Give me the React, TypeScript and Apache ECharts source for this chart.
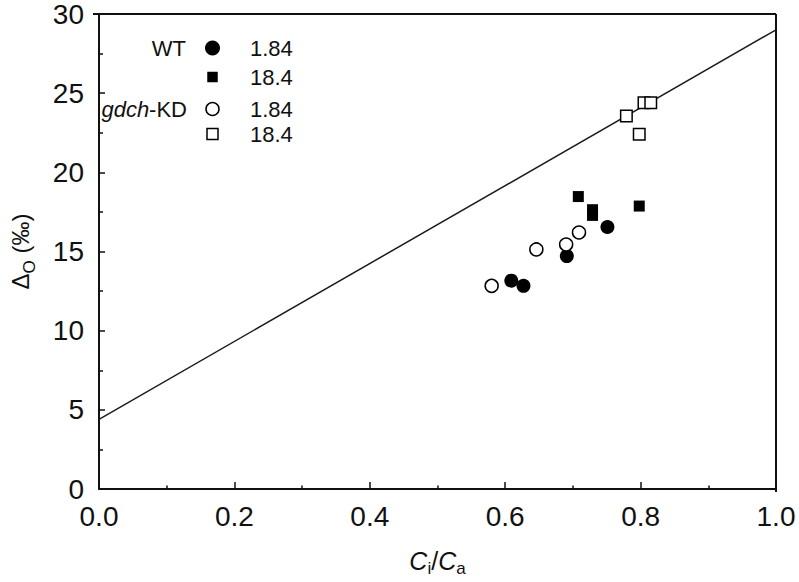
import React, { useEffect, useRef } from "react";
import * as echarts from "echarts";

const lineX = [0, 1];
const lineY = [4.4, 29.0];

const wt184: number[][] = [[0.751, 16.55], [0.691, 14.71], [0.609, 13.16], [0.627, 12.83]];
const wt184Sq: number[][] = [[0.708, 18.47], [0.798, 17.87], [0.729, 17.64], [0.729, 17.28]];
const kd184: number[][] = [[0.709, 16.2], [0.690, 15.44], [0.646, 15.13], [0.580, 12.83]];
const kd184Sq: number[][] = [[0.779, 23.56], [0.798, 22.41], [0.805, 24.4], [0.815, 24.4]];

const legendRows = [
  { group: "WT", marker: "circle", filled: true, label: "1.84" },
  { group: "", marker: "rect", filled: true, label: "18.4" },
  { group: "gdch-KD", marker: "circle", filled: false, label: "1.84" },
  { group: "", marker: "rect", filled: false, label: "18.4" },
];

const FONT = "Liberation Sans, Arial, sans-serif";
const INK = "#111";

export default function App() {
  const ref = useRef<HTMLDivElement>(null);
  useEffect(() => {
    if (!ref.current) return;
    const chart = echarts.init(ref.current, undefined, { renderer: "svg" });
    const rowY = [48, 77, 109, 134];
    const graphics: any[] = [];
    legendRows.forEach((r, i) => {
      const y = rowY[i];
      if (r.group === "WT") {
        graphics.push({ type: "text", x: 186, y, style: { text: "WT", fill: INK, font: `22px ${FONT}`, align: "right", verticalAlign: "middle" } });
      } else if (r.group) {
        graphics.push({
          type: "text", x: 187, y,
          style: {
            text: "{i|gdch}{n|-KD}", align: "right", verticalAlign: "middle",
            rich: { i: { fontStyle: "italic", fontSize: 22, fontFamily: FONT, fill: INK }, n: { fontSize: 22, fontFamily: FONT, fill: INK } },
          },
        });
      }
      if (r.marker === "circle") {
        const rad = r.filled ? 7.5 : 6.5;
        graphics.push({ type: "circle", shape: { cx: 212.5, cy: y, r: rad }, style: { fill: r.filled ? "#000" : "#fff", stroke: "#000", lineWidth: r.filled ? 0 : 1.5 } });
      } else {
        const s = r.filled ? 10.5 : 11;
        graphics.push({ type: "rect", shape: { x: 212.5 - s / 2, y: y - s / 2, width: s, height: s }, style: { fill: r.filled ? "#000" : "#fff", stroke: "#000", lineWidth: r.filled ? 0 : 1.5 } });
      }
      graphics.push({ type: "text", x: 250, y, style: { text: r.label, fill: INK, font: `22px ${FONT}`, verticalAlign: "middle" } });
    });

    const scatterBase = { type: "scatter", z: 3 };
    chart.setOption({
      animation: false,
      backgroundColor: "#fff",
      grid: { left: 93, right: 23, top: 14, bottom: 90, show: false, containLabel: false },
      xAxis: {
        type: "value", min: 0, max: 1, interval: 0.2,
        axisLine: { show: true, onZero: false, lineStyle: { color: INK, width: 2 } },
        axisTick: { show: true, inside: true, length: 7, lineStyle: { color: INK, width: 1.5 } },
        minorTick: { show: true, splitNumber: 2, length: 3.5, lineStyle: { color: INK, width: 1.5 } },
        splitLine: { show: false },
        axisLabel: { fontSize: 28, fontFamily: FONT, color: INK, margin: 13, formatter: (v: number) => v.toFixed(1) },
        name: "{c|C}{s|i}{n|/}{c|C}{s|a}",
        nameLocation: "middle", nameGap: 54,
        nameTextStyle: {
          rich: {
            c: { fontSize: 25, fontStyle: "italic", fontFamily: FONT, color: INK, lineHeight: 30, verticalAlign: "bottom" },
            n: { fontSize: 25, fontFamily: FONT, color: INK, lineHeight: 30, verticalAlign: "bottom" },
            s: { fontSize: 17, fontFamily: FONT, color: INK, lineHeight: 30, verticalAlign: "bottom", padding: [0, 0, -4, 0] },
          },
        },
      },
      yAxis: {
        type: "value", min: 0, max: 30, interval: 5,
        axisLine: { show: true, onZero: false, lineStyle: { color: INK, width: 2 } },
        axisTick: { show: true, inside: true, length: 6, lineStyle: { color: INK, width: 1.5 } },
        minorTick: { show: true, splitNumber: 2, length: 4, lineStyle: { color: INK, width: 1.5 } },
        splitLine: { show: false },
        axisLabel: { fontSize: 28, fontFamily: FONT, color: INK, margin: 15 },
        name: "{n|Δ}{s|O}{n| (‰)}",
        nameLocation: "middle", nameGap: 67, nameRotate: 90,
        nameTextStyle: {
          rich: {
            n: { fontSize: 24, fontFamily: FONT, color: INK, lineHeight: 30, verticalAlign: "bottom" },
            s: { fontSize: 17, fontFamily: FONT, color: INK, lineHeight: 30, verticalAlign: "bottom", padding: [0, 0, -6, 0] },
          },
        },
      },
      graphic: [
        { type: "line", shape: { x1: 93, y1: 14, x2: 776, y2: 14 }, style: { stroke: INK, lineWidth: 2 } },
        { type: "line", shape: { x1: 776, y1: 14, x2: 776, y2: 492 }, style: { stroke: INK, lineWidth: 2 } },
        ...graphics,
      ],
      series: [
        {
          type: "line", data: lineX.map((x, i) => [x, lineY[i]]), showSymbol: false, symbol: "none",
          lineStyle: { color: "#1a1a1a", width: 1.5 }, z: 2,
        },
        { ...scatterBase, data: wt184, symbol: "circle", symbolSize: 14, itemStyle: { color: "#000", borderColor: "#000", borderWidth: 0, opacity: 1 } },
        { ...scatterBase, data: wt184Sq, symbol: "rect", symbolSize: 11, itemStyle: { color: "#000", opacity: 1 } },
        { ...scatterBase, data: kd184, symbol: "circle", symbolSize: 13, itemStyle: { color: "#fff", borderColor: "#000", borderWidth: 1.5, opacity: 1 } },
        { ...scatterBase, data: kd184Sq, symbol: "rect", symbolSize: 11.5, itemStyle: { color: "#fff", borderColor: "#000", borderWidth: 1.5, opacity: 1 } },
      ],
    });
    return () => chart.dispose();
  }, []);
  return <div ref={ref} style={{ width: 799, height: 582, position: "absolute", left: 0, top: 0 }} />;
}
